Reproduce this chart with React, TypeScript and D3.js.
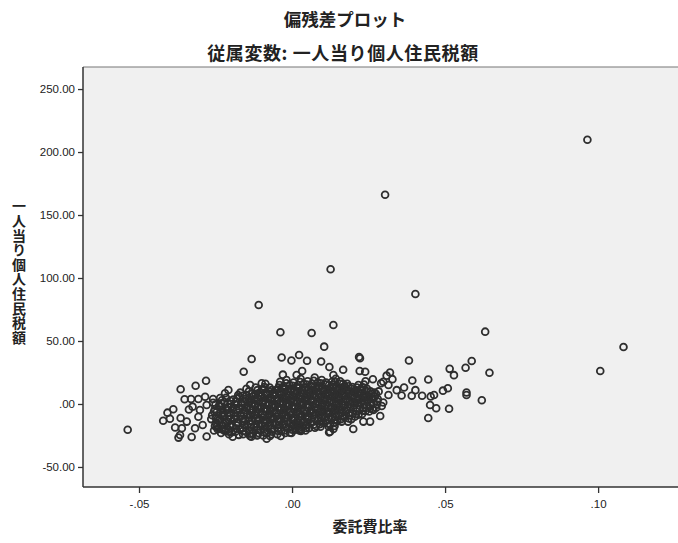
import React, { useEffect, useRef } from 'react';
import * as d3 from 'd3';

// 偏残差プロット: 委託費比率 vs 一人当り個人住民税額 (partial residuals)
const xTicks = [-0.05, 0, 0.05, 0.1];
const xTickLabels = ['-.05', '.00', '.05', '.10'];
const yTicks = [-50, 0, 50, 100, 150, 200, 250];
const yTickLabels = ['-50.00', '.00', '50.00', '100.00', '150.00', '200.00', '250.00'];

// points away from the dense core
const outerPoints: [number, number][] = [
  [0.0965, 209.8], [0.0304, 166.1], [0.0126, 106.9], [-0.0109, 78.6], [0.0403, 87.3],
  [0.0135, 62.7], [0.0064, 56.3], [-0.0038, 56.9], [0.0631, 57.4], [0.1083, 45.2],
  [0.0105, 45.5], [0.0219, 37.3], [0.0382, 34.5], [0.0587, 34.1], [0.0023, 38.9],
  [0.1007, 26.2], [-0.0132, 35.7], [-0.0158, 25.6], [-0.0034, 36.9], [-0.0002, 34.5],
  [0.0049, 34.3], [0.0095, 33.7], [0.0122, 29.4], [0.0167, 27.2], [-0.003, 23.3],
  [0.0033, 26.2], [-0.0281, 18.5], [-0.0315, 14.5], [-0.0364, 11.7], [0.0222, 36.3],
  [0.0239, 25.6], [0.0135, 23.0], [0.0515, 27.9], [0.0529, 22.9], [0.0567, 28.8],
  [0.0645, 24.8], [0.0445, 19.4], [0.0393, 18.7], [0.032, 25.0], [0.0309, 22.5],
  [0.0328, 19.7], [0.0291, 16.4], [0.0264, 19.6], [0.0221, 26.2], [0.062, 3.0],
  [0.057, 9.1], [0.057, 7.1], [0.0509, 12.5], [0.0493, 10.6], [0.0464, 7.1],
  [0.0453, 6.0], [0.0425, 6.5], [0.0403, 11.0], [0.0391, 6.5], [0.0366, 13.1],
  [0.0358, 6.7], [0.0451, -0.8], [0.0471, -3.4], [0.0513, -3.8], [0.0445, -11.1],
  [0.0342, 11.0], [0.0315, 7.1], [0.0298, 1.2], [0.0293, -1.6], [0.0266, -4.8],
  [0.0288, -9.5], [0.0233, -14.0], [0.02, -19.8], [0.0135, -19.8], [0.0121, -22.5],
  [0.0075, -18.8], [0.0315, 15.1], [0.0298, 17.7], [-0.0537, -20.4],
  [-0.0351, 3.7], [-0.033, 4.0], [-0.0306, 4.0], [-0.0258, 4.0], [-0.0235, 4.8],
  [-0.0208, 11.1], [-0.0388, -4.2], [-0.0407, -6.9], [-0.0421, -13.3], [-0.0399, -11.7],
  [-0.0364, -11.1], [-0.0337, -4.4], [-0.0325, -2.1], [-0.0301, -4.8], [-0.0382, -18.7],
  [-0.0366, -24.6], [-0.0371, -26.7], [-0.0328, -26.2], [-0.036, -19.3], [-0.0344, -14.0],
  [-0.0317, -19.3], [-0.0292, -16.7], [-0.0279, -25.8], [-0.0306, -10.1], [-0.0279, -0.8],
  [-0.0284, 5.8], [-0.0218, -20.9], [-0.0137, -25.4], [-0.0113, -24.6], [-0.0083, -27.5],
  [-0.0037, -25.4], [-0.0007, -22.8], [0.0029, -21.4], [0.0124, -22.0], [-0.0219, 8.5],
  [-0.0137, 15.1], [-0.0099, 16.4], [-0.0039, 17.7], [0.0015, 23.0], [-0.0072, -25.4],
  [0.0255, -14.0], [0.0026, -20.1], [0.0004, -16.7],
];

// the dense core around zero
const corePoints: [number, number][] = [
  [-0.0255, -21], [-0.0249, -15], [-0.0261, -9], [-0.0252, -4], [-0.0258, 1], [-0.0246, -18], [-0.0264, -12],
  [-0.0232, -23], [-0.0228, -17], [-0.0237, -12], [-0.0225, -7], [-0.0234, -2], [-0.0229, 3], [-0.024, -19], [-0.0222, -10],
  [-0.0208, -20], [-0.0213, -14], [-0.0204, -9], [-0.0211, -5], [-0.0201, 0], [-0.0216, 5], [-0.0206, -24], [-0.0199, -16],
  [-0.0185, -22], [-0.0181, -17], [-0.0189, -12], [-0.0178, -7], [-0.0192, -3], [-0.0183, 2], [-0.0176, 7], [-0.0194, -26],
  [-0.0162, -19], [-0.0158, -14], [-0.0167, -10], [-0.0155, -5], [-0.0164, -1], [-0.0152, 4], [-0.0169, 9], [-0.016, -24], [-0.0149, 12],
  [-0.0139, -21], [-0.0135, -16], [-0.0143, -11], [-0.0131, -7], [-0.0146, -2], [-0.0137, 2], [-0.0128, 6], [-0.0141, 10], [-0.0133, -26],
  [-0.0116, -18], [-0.0112, -13], [-0.012, -9], [-0.0108, -4], [-0.0123, 0], [-0.0114, 5], [-0.0105, 9], [-0.0119, 13], [-0.011, -23],
  [-0.0093, -20], [-0.0089, -15], [-0.0097, -11], [-0.0085, -6], [-0.01, -2], [-0.0091, 3], [-0.0082, 7], [-0.0096, 11], [-0.0087, 16], [-0.0094, -25],
  [-0.007, -17], [-0.0066, -12], [-0.0074, -8], [-0.0062, -3], [-0.0077, 1], [-0.0068, 5], [-0.0059, 9], [-0.0073, 13], [-0.0065, -22],
  [-0.0047, -19], [-0.0043, -14], [-0.0051, -10], [-0.0039, -5], [-0.0054, -1], [-0.0045, 3], [-0.0036, 7], [-0.005, 11], [-0.0041, 15], [-0.0048, -24],
  [-0.0024, -16], [-0.002, -11], [-0.0028, -7], [-0.0016, -2], [-0.0031, 2], [-0.0022, 6], [-0.0013, 10], [-0.0027, 14], [-0.0018, 19], [-0.0025, -21],
  [-0.0001, -18], [0.0003, -13], [-0.0005, -9], [0.0007, -4], [-0.0008, 0], [0.0001, 4], [0.001, 8], [-0.0004, 12], [0.0005, 17], [-0.0002, -23],
  [0.0022, -15], [0.0026, -10], [0.0018, -6], [0.003, -1], [0.0015, 3], [0.0024, 7], [0.0033, 11], [0.0019, 15], [0.0028, 20], [0.0021, -19],
  [0.0045, -17], [0.0049, -12], [0.0041, -8], [0.0053, -3], [0.0038, 1], [0.0047, 5], [0.0056, 9], [0.0042, 13], [0.0051, 18], [0.0044, -21],
  [0.0068, -14], [0.0072, -9], [0.0064, -5], [0.0076, 0], [0.0061, 4], [0.007, 8], [0.0079, 12], [0.0065, 16], [0.0074, 21],
  [0.0091, -16], [0.0095, -11], [0.0087, -7], [0.0099, -2], [0.0084, 2], [0.0093, 6], [0.0102, 10], [0.0088, 14], [0.0097, 19],
  [0.0114, -13], [0.0118, -8], [0.011, -4], [0.0122, 1], [0.0107, 5], [0.0116, 9], [0.0125, 13], [0.0111, 17], [0.012, -18],
  [0.0137, -15], [0.0141, -10], [0.0133, -6], [0.0145, -1], [0.013, 3], [0.0139, 7], [0.0148, 11], [0.0134, 15], [0.0143, 20],
  [0.016, -12], [0.0164, -7], [0.0156, -3], [0.0168, 2], [0.0153, 6], [0.0162, 10], [0.0171, 14], [0.0157, 18],
  [0.0183, -14], [0.0187, -9], [0.0179, -5], [0.0191, 0], [0.0176, 4], [0.0185, 8], [0.0194, 12], [0.018, 16],
  [0.0206, -10], [0.021, -6], [0.0202, -1], [0.0214, 3], [0.0199, 7], [0.0208, 11], [0.0217, 15],
  [0.0229, -8], [0.0233, -3], [0.0225, 1], [0.0237, 5], [0.0222, 9], [0.0231, 13], [0.024, 18],
  [0.0252, -6], [0.0256, -1], [0.0248, 3], [0.026, 8], [0.0245, 12],
  [0.0275, -3], [0.0279, 2], [0.0271, 6], [0.0283, 10],
];

// more points packed between the core columns
const coreFillPoints: [number, number][] = [
  [-0.0243, -20], [-0.024, -13.5], [-0.0247, -6.5], [-0.0238, -1.5],
  [-0.022, -21.5], [-0.0217, -15], [-0.0224, -9.5], [-0.0215, -4], [-0.0221, 1.5],
  [-0.0197, -22.5], [-0.0194, -18], [-0.02, -11.5], [-0.019, -7.5], [-0.0198, -2], [-0.0192, 3.5],
  [-0.0174, -24.5], [-0.017, -20], [-0.0177, -15], [-0.0168, -8.5], [-0.0173, -3.5], [-0.0166, 1], [-0.0171, 5.5],
  [-0.0151, -22], [-0.0147, -17], [-0.0154, -12.5], [-0.0145, -8], [-0.015, -3], [-0.0143, 1.5], [-0.0148, 7],
  [-0.0128, -23.5], [-0.0124, -18.5], [-0.0131, -13.5], [-0.0122, -9], [-0.0127, -4.5], [-0.012, -1], [-0.0125, 3.5], [-0.0118, 8],
  [-0.0105, -21], [-0.0101, -16.5], [-0.0108, -12], [-0.0099, -7.5], [-0.0104, -3], [-0.0097, 1.5], [-0.0102, 6], [-0.0095, 12],
  [-0.0082, -23], [-0.0078, -18], [-0.0085, -13.5], [-0.0076, -9], [-0.0081, -4.5], [-0.0074, -0.5], [-0.0079, 4], [-0.0072, 9.5],
  [-0.0059, -20], [-0.0055, -15.5], [-0.0062, -11], [-0.0053, -6.5], [-0.0058, -2], [-0.0051, 2.5], [-0.0056, 7], [-0.0049, 11.5],
  [-0.0036, -21.5], [-0.0032, -17], [-0.0039, -12.5], [-0.003, -8], [-0.0035, -3.5], [-0.0028, 1], [-0.0033, 5], [-0.0026, 9.5], [-0.0031, 13],
  [-0.0013, -19.5], [-0.0009, -15], [-0.0016, -10.5], [-0.0007, -6], [-0.0012, -1.5], [-0.0005, 2.5], [-0.001, 6.5], [-0.0003, 11], [-0.0008, 15],
  [0.001, -20.5], [0.0014, -16], [0.0007, -11.5], [0.0016, -7], [0.0011, -2.5], [0.0018, 1.5], [0.0013, 5.5], [0.002, 10], [0.0015, 13.5],
  [0.0033, -18.5], [0.0037, -14], [0.003, -9.5], [0.0039, -5], [0.0034, -0.5], [0.0041, 3.5], [0.0036, 8], [0.0043, 12.5], [0.0038, 16],
  [0.0056, -19], [0.006, -15], [0.0053, -10.5], [0.0062, -6], [0.0057, -1.5], [0.0064, 2.5], [0.0059, 6.5], [0.0066, 11], [0.0061, 14.5],
  [0.0079, -17.5], [0.0083, -12.5], [0.0076, -8], [0.0085, -3.5], [0.008, 0.5], [0.0087, 5], [0.0082, 9.5], [0.0089, 13], [0.0084, 17],
  [0.0102, -15], [0.0106, -10], [0.0099, -5.5], [0.0108, -1], [0.0103, 3.5], [0.011, 7.5], [0.0105, 11.5], [0.0112, 15.5],
  [0.0125, -16.5], [0.0129, -11.5], [0.0122, -7], [0.0131, -2.5], [0.0126, 2], [0.0133, 5.5], [0.0128, 9.5], [0.0135, 13.5], [0.013, 17.5],
  [0.0148, -13.5], [0.0152, -9], [0.0145, -4.5], [0.0154, 0], [0.0149, 4.5], [0.0156, 8.5], [0.0151, 12.5], [0.0158, 16],
  [0.0171, -10.5], [0.0175, -6], [0.0168, -1.5], [0.0177, 3], [0.0172, 7], [0.0179, 11], [0.0174, 13.5],
  [0.0194, -12], [0.0198, -7.5], [0.0191, -3], [0.02, 1.5], [0.0195, 5.5], [0.0202, 9.5], [0.0197, 13.5],
  [0.0217, -8.5], [0.0221, -4], [0.0214, 0.5], [0.0223, 4.5], [0.0218, 8.5], [0.0225, 12],
  [0.024, -5.5], [0.0244, -1.5], [0.0237, 2.5], [0.0246, 6.5], [0.0241, 10.5],
  [0.0263, -4], [0.0267, 0.5], [0.026, 4.5], [0.0269, 9],
];

// heavily overplotted middle of the core
const coreDensePoints: [number, number][] = [
  [-0.0252, -17.5], [-0.0249, -11], [-0.0255, -6], [-0.025, -0.5],
  [-0.0229, -20], [-0.0226, -14.5], [-0.0232, -8.5], [-0.0227, -4.5], [-0.0231, 0.5],
  [-0.0206, -22], [-0.0203, -17.5], [-0.0209, -12], [-0.0204, -7], [-0.0208, -2.5], [-0.0202, 2.5],
  [-0.0183, -19.5], [-0.018, -14.5], [-0.0186, -9.5], [-0.0181, -5], [-0.0185, -0.5], [-0.0179, 4.5],
  [-0.016, -21.5], [-0.0157, -16.5], [-0.0163, -12], [-0.0158, -7.5], [-0.0162, -3], [-0.0156, 1.5], [-0.0161, 6.5],
  [-0.0137, -23.5], [-0.0134, -18.5], [-0.014, -13.5], [-0.0135, -9], [-0.0139, -4.5], [-0.0133, 0], [-0.0138, 4], [-0.0132, 8],
  [-0.0114, -25], [-0.0111, -20.5], [-0.0117, -15.5], [-0.0112, -11], [-0.0116, -6.5], [-0.011, -2], [-0.0115, 2.5], [-0.0109, 7], [-0.0113, 11],
  [-0.0091, -22.5], [-0.0088, -17.5], [-0.0094, -13], [-0.0089, -8.5], [-0.0093, -4], [-0.0087, 0.5], [-0.0092, 5], [-0.0086, 9], [-0.009, 13.5],
  [-0.0068, -24], [-0.0065, -19.5], [-0.0071, -14.5], [-0.0066, -10], [-0.007, -5.5], [-0.0064, -1], [-0.0069, 3], [-0.0063, 7], [-0.0067, 11],
  [-0.0045, -21.5], [-0.0042, -16.5], [-0.0048, -12], [-0.0043, -7.5], [-0.0047, -3], [-0.0041, 1], [-0.0046, 5], [-0.004, 9], [-0.0044, 13],
  [-0.0022, -23], [-0.0019, -18.5], [-0.0025, -13.5], [-0.002, -9], [-0.0024, -4.5], [-0.0018, 0], [-0.0023, 4], [-0.0017, 8], [-0.0021, 12], [-0.0019, 16.5],
  [0.0001, -20.5], [0.0004, -15.5], [-0.0002, -11], [0.0003, -6.5], [-0.0001, -2], [0.0005, 2], [0, 6], [0.0006, 10], [0.0002, 14.5],
  [0.0024, -21], [0.0027, -17], [0.0021, -12.5], [0.0026, -8], [0.0022, -3.5], [0.0028, 1], [0.0023, 5], [0.0029, 9], [0.0025, 13], [0.0027, 17.5],
  [0.0047, -19], [0.005, -14.5], [0.0044, -10], [0.0049, -5.5], [0.0045, -1], [0.0051, 3], [0.0046, 7], [0.0052, 11], [0.0048, 15.5],
  [0.007, -16.5], [0.0073, -11.5], [0.0067, -7], [0.0072, -2.5], [0.0068, 2], [0.0074, 6], [0.0069, 10], [0.0075, 14], [0.0071, 18.5],
  [0.0093, -18], [0.0096, -13.5], [0.009, -9], [0.0095, -4.5], [0.0091, 0], [0.0097, 4], [0.0092, 8], [0.0098, 12], [0.0094, 16.5],
  [0.0116, -15.5], [0.0119, -10.5], [0.0113, -6], [0.0118, -1.5], [0.0114, 3], [0.012, 7], [0.0115, 11], [0.0121, 15],
  [0.0139, -17.5], [0.0142, -12.5], [0.0136, -8], [0.0141, -3.5], [0.0137, 1], [0.0143, 5], [0.0138, 9], [0.0144, 13], [0.014, 17.5],
  [0.0162, -14], [0.0165, -9.5], [0.0159, -5], [0.0164, 0], [0.016, 4], [0.0166, 8], [0.0161, 12], [0.0167, 16],
  [0.0185, -11.5], [0.0188, -7], [0.0182, -2.5], [0.0187, 2], [0.0183, 6], [0.0189, 10], [0.0184, 14],
  [0.0208, -8], [0.0211, -3.5], [0.0205, 1], [0.021, 5], [0.0206, 9], [0.0212, 13],
  [0.0231, -5.5], [0.0234, -0.5], [0.0228, 3], [0.0233, 7], [0.0229, 11], [0.0235, 15.5],
  [0.0254, -3.5], [0.0257, 1], [0.0251, 5.5], [0.0256, 10],
  [0.0277, -0.5], [0.028, 4], [0.0274, 8],
];

const title = '偏残差プロット';
const subtitle = '従属変数: 一人当り個人住民税額';
const xTitle = '委託費比率';
const yTitle = '一人当り個人住民税額';

const W = 678;
const H = 543;
const frame = { left: 83, right: 678, top: 67, bottom: 487 };
const jp = '"Noto Sans CJK JP", sans-serif';
const num = '"Liberation Sans", Arial, sans-serif';

function App() {
  const svgRef = useRef<SVGSVGElement>(null);

  useEffect(() => {
    const svg = d3.select(svgRef.current);
    svg.selectAll('*').remove();

    const x = d3.scaleLinear().domain([-0.0683, 0.1261]).range([frame.left, frame.right]);
    const y = d3.scaleLinear().domain([-65.9, 267.5]).range([frame.bottom, frame.top]);

    svg.append('rect')
      .attr('width', W).attr('height', H).attr('fill', '#fff');

    svg.append('rect')
      .attr('x', frame.left).attr('y', frame.top)
      .attr('width', frame.right - frame.left).attr('height', frame.bottom - frame.top)
      .attr('fill', '#f0f0f0');

    // frame top edge
    svg.append('line')
      .attr('x1', frame.left).attr('x2', frame.right)
      .attr('y1', frame.top).attr('y2', frame.top)
      .attr('stroke', '#777').attr('stroke-width', 1.2);

    // points
    const all = [...outerPoints, ...corePoints, ...coreFillPoints, ...coreDensePoints];
    svg.append('g')
      .selectAll('circle')
      .data(all)
      .join('circle')
      .attr('cx', d => x(d[0]))
      .attr('cy', d => y(d[1]))
      .attr('r', 3.4)
      .attr('fill', 'none')
      .attr('stroke', '#2e2e2e')
      .attr('stroke-width', 1.8);

    // y axis
    const yAxis = d3.axisLeft(y)
      .tickValues(yTicks)
      .tickSize(5)
      .tickPadding(3)
      .tickFormat((d, i) => yTickLabels[i]);
    const gy = svg.append('g')
      .attr('transform', `translate(${frame.left},0)`)
      .call(yAxis);
    gy.select('.domain').remove();
    gy.append('line')
      .attr('x1', 0).attr('x2', 0).attr('y1', frame.top).attr('y2', frame.bottom)
      .attr('stroke', '#333').attr('stroke-width', 1.5);
    gy.selectAll('.tick line').attr('stroke', '#333').attr('stroke-width', 1.3);
    gy.selectAll('.tick text')
      .attr('font-family', num).attr('font-size', 11.5).attr('fill', '#222');

    // x axis
    const xAxis = d3.axisBottom(x)
      .tickValues(xTicks)
      .tickSize(6)
      .tickPadding(7)
      .tickFormat((d, i) => xTickLabels[i]);
    const gx = svg.append('g')
      .attr('transform', `translate(0,${frame.bottom})`)
      .call(xAxis);
    gx.select('.domain').remove();
    gx.append('line')
      .attr('x1', frame.left).attr('x2', frame.right).attr('y1', 0).attr('y2', 0)
      .attr('stroke', '#333').attr('stroke-width', 1.5);
    gx.selectAll('.tick line').attr('stroke', '#333').attr('stroke-width', 1.3);
    gx.selectAll('.tick text')
      .attr('font-family', num).attr('font-size', 11.5).attr('fill', '#222');

    // titles
    svg.append('text')
      .attr('x', 345).attr('y', 26)
      .attr('text-anchor', 'middle')
      .attr('font-family', jp).attr('font-weight', 'bold').attr('font-size', 17.5)
      .attr('fill', '#222')
      .text(title);

    svg.append('text')
      .attr('x', 343).attr('y', 60)
      .attr('text-anchor', 'middle')
      .attr('font-family', jp).attr('font-weight', 'bold').attr('font-size', 18)
      .attr('letter-spacing', 0.6)
      .attr('fill', '#222')
      .text(subtitle);

    svg.append('text')
      .attr('x', 370).attr('y', 532)
      .attr('text-anchor', 'middle')
      .attr('font-family', jp).attr('font-weight', 'bold').attr('font-size', 15)
      .attr('fill', '#222')
      .text(xTitle);

    // vertical y title, upright characters in one text
    svg.append('text')
      .attr('x', 19)
      .attr('y', 199)
      .attr('font-family', jp).attr('font-weight', 'bold').attr('font-size', 14)
      .attr('letter-spacing', 0.6)
      .attr('fill', '#222')
      .style('writing-mode', 'vertical-rl')
      .style('text-orientation', 'upright')
      .text(yTitle);
  }, []);

  return (
    <svg
      ref={svgRef}
      width={W}
      height={H}
      style={{ position: 'absolute', left: 0, top: 0, display: 'block' }}
    />
  );
}

export default App;
